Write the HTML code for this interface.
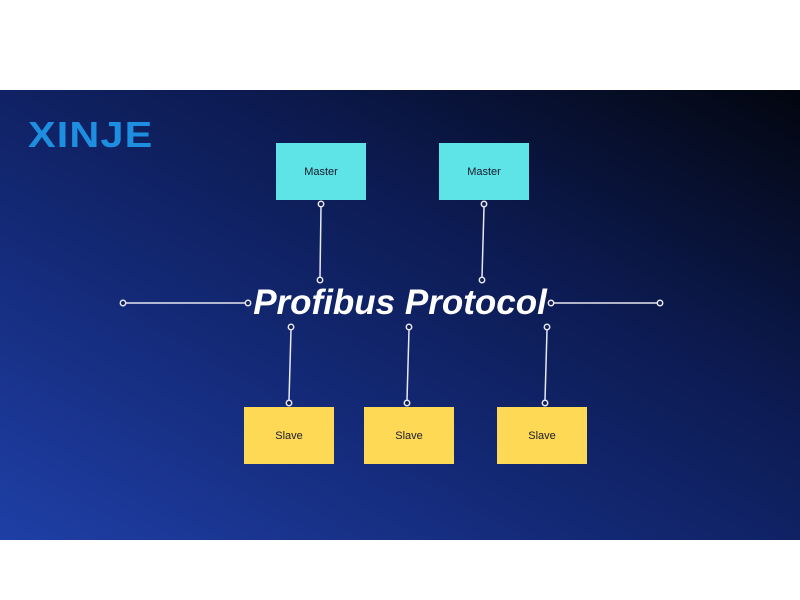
<!DOCTYPE html>
<html><head><style>
body{margin:0;width:800px;height:600px;background:#fff;position:relative;overflow:hidden;font-family:"Liberation Sans",sans-serif}
#bg{position:absolute;left:0;top:90px;width:800px;height:450px;background:linear-gradient(to top right,#1f3fa6 0%,#142a78 35%,#0c1a50 65%,#03060f 100%)}
.box{position:absolute;width:90px;height:57px;display:flex;align-items:center;justify-content:center;font-size:11px;color:#1a1a2a}
.m{background:#5ee3e6}.s{background:#fdd955}
#logo{position:absolute;left:28px;top:114px;font-size:36px;font-weight:bold;color:#1e8fe0;letter-spacing:1px;transform:scaleX(1.15);transform-origin:left}
#title{position:absolute;left:200px;width:400px;top:283px;text-align:center;font-size:35px;font-weight:bold;font-style:italic;color:#fff}
svg{position:absolute;left:0;top:0}
</style></head><body>
<div id="bg"></div>
<div id="logo">XINJE</div>
<div class="box m" style="left:276px;top:143px">Master</div>
<div class="box m" style="left:439px;top:143px">Master</div>
<div class="box s" style="left:244px;top:407px">Slave</div>
<div class="box s" style="left:364px;top:407px">Slave</div>
<div class="box s" style="left:497px;top:407px">Slave</div>
<svg width="800" height="600" stroke="#e8e8f0" stroke-width="1.5" fill="none">
<line x1="126" y1="303" x2="245" y2="303"/><line x1="554" y1="303" x2="657" y2="303"/>
<line x1="321" y1="207" x2="320" y2="277"/><line x1="484" y1="207" x2="482" y2="277"/>
<line x1="291" y1="330" x2="289" y2="400"/><line x1="409" y1="330" x2="407" y2="400"/><line x1="547" y1="330" x2="545" y2="400"/>
<g fill="#0f1f5a">
<circle cx="123" cy="303" r="2.7"/><circle cx="248" cy="303" r="2.7"/><circle cx="551" cy="303" r="2.7"/><circle cx="660" cy="303" r="2.7"/>
<circle cx="321" cy="204" r="2.7"/><circle cx="320" cy="280" r="2.7"/><circle cx="484" cy="204" r="2.7"/><circle cx="482" cy="280" r="2.7"/>
<circle cx="291" cy="327" r="2.7"/><circle cx="289" cy="403" r="2.7"/><circle cx="409" cy="327" r="2.7"/><circle cx="407" cy="403" r="2.7"/><circle cx="547" cy="327" r="2.7"/><circle cx="545" cy="403" r="2.7"/>
</g></svg>
<div id="title">Profibus Protocol</div>
</body></html>
